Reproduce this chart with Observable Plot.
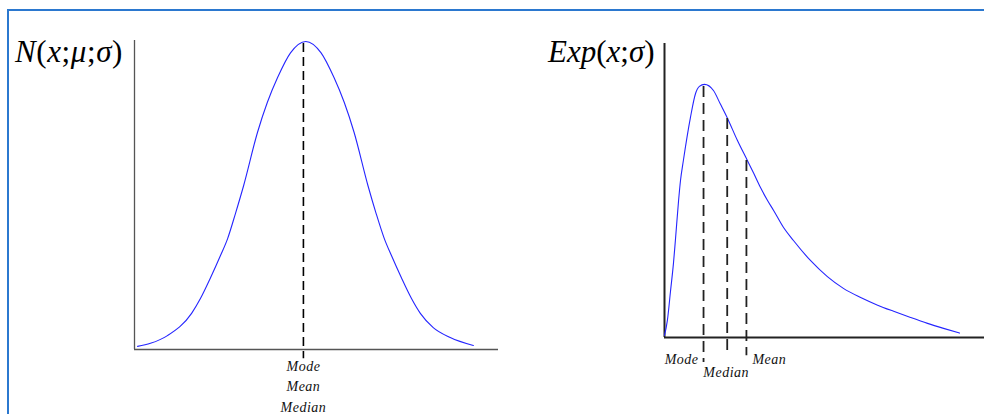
<!DOCTYPE html>
<html><head><meta charset="utf-8">
<script src="https://cdn.jsdelivr.net/npm/d3@7"></script>
<script src="https://cdn.jsdelivr.net/npm/@observablehq/plot@0.6"></script>
<style>
html,body{margin:0;padding:0;background:#fff;}
#wrap{position:relative;width:984px;height:414px;overflow:hidden;background:#fff;}
#frame{position:absolute;left:7px;top:9px;width:1100px;height:600px;border:2px solid #2b78cf;box-sizing:border-box;}
.title{position:absolute;font-family:"Liberation Serif","Times New Roman",serif;font-size:31px;line-height:1;white-space:nowrap;color:#000;}
.title i{font-style:italic;}
.panel{position:absolute;top:0;}
.panel svg text{letter-spacing:0.5px;}
</style></head>
<body><div id="wrap"><div id="frame"></div>
<div class="panel" id="left" style="left:0"></div>
<div class="panel" id="right" style="left:500px"></div>
<div class="title" style="left:15px;top:36px;letter-spacing:0.6px"><i>N</i>(<i>x</i>;<i>μ</i>;<i>σ</i>)</div>
<div class="title" style="left:548px;top:36px"><i>Exp</i>(<i>x</i>;<i>σ</i>)</div>
</div>
<script>
// Normal distribution curve (relative units)
const normalX = [0.09,0.47,0.97,1.68,1.94,2.24,2.53,2.74,2.97,3.21,3.62,3.91,4.21,4.59,5.04,5.49,5.87,6.17,6.46,6.87,7.11,7.35,7.56,7.85,8.15,8.41,8.79,9.29,9.97];
const normalY = [0.010,0.020,0.045,0.117,0.165,0.233,0.304,0.359,0.440,0.530,0.703,0.800,0.880,0.960,0.997,0.960,0.880,0.800,0.703,0.530,0.440,0.359,0.304,0.233,0.165,0.117,0.071,0.039,0.013];
const normalMode = 4.97;          // mode = mean = median
const normalStatTop = 0.99;
const normalLabels = ["Mode", "Mean", "Median"];

// Skewed distribution curve
const skewX = [0,0.09,0.19,0.28,0.34,0.44,0.50,0.59,0.81,0.97,1.09,1.25,1.53,1.75,1.97,2.28,2.59,2.78,3.00,3.22,3.41,3.72,4.03,4.56,5.09,5.59,6.13,6.66,7.16,7.69,8.22,8.72,9.22];
const skewY = [0.007,0.058,0.160,0.252,0.330,0.466,0.534,0.602,0.748,0.830,0.854,0.861,0.840,0.793,0.745,0.670,0.602,0.560,0.510,0.466,0.432,0.374,0.330,0.262,0.207,0.167,0.136,0.110,0.089,0.068,0.048,0.031,0.015];
const skewStatNames = ["Mode", "Median", "Mean"];
const skewStatX = [1.22, 1.96, 2.56];
const skewStatTop = [0.854, 0.745, 0.602];

const normalData = normalX.map((x, i) => ({x, y: normalY[i]}));
const skewData = skewX.map((x, i) => ({x, y: skewY[i]}));
const skewStats = skewStatNames.map((name, i) => ({name, x: skewStatX[i], top: skewStatTop[i]}));

const curveColor = "#2525ff";
const labelFont = {fontFamily: "'Liberation Serif', 'Times New Roman', serif", fontStyle: "italic", fontSize: 14, fill: "#111"};

const left = Plot.plot({
  width: 500, height: 414,
  marginLeft: 134, marginRight: 2, marginTop: 40, marginBottom: 65,
  x: {domain: [0, 10.71], axis: null},
  y: {domain: [0, 1], axis: null},
  style: {background: "transparent", overflow: "visible"},
  marks: [
    Plot.ruleX([0], {y1: 0, y2: 1, stroke: "#555", strokeWidth: 1.3}),
    Plot.ruleY([0], {x1: 0, x2: 10.71, stroke: "#555", strokeWidth: 1.3}),
    Plot.line(normalData, {x: "x", y: "y", stroke: curveColor, strokeWidth: 1.1, curve: "monotone-x"}),
    Plot.ruleX([normalMode], {y1: normalStatTop, y2: -0.03, stroke: "#000", strokeWidth: 1.6, strokeDasharray: "9,5"}),
    ...normalLabels.map((t, i) => Plot.text([t], {x: normalMode, y: 0, text: d => d, dy: 21 + 20.5 * i, lineAnchor: "bottom", textAnchor: "middle", ...labelFont}))
  ]
});
document.getElementById("left").appendChild(left);

const right = Plot.plot({
  width: 484, height: 414,
  marginLeft: 164, marginRight: 0, marginTop: 43, marginBottom: 77,
  x: {domain: [0, 10], axis: null},
  y: {domain: [0, 1], axis: null},
  style: {background: "transparent", overflow: "visible"},
  marks: [
    Plot.ruleX([0], {y1: 0, y2: 1, stroke: "#222", strokeWidth: 2}),
    Plot.ruleY([0], {x1: 0, x2: 10, stroke: "#222", strokeWidth: 2}),
    Plot.line(skewData, {x: "x", y: "y", stroke: curveColor, strokeWidth: 1.1, curve: "monotone-x"}),
    Plot.ruleX(skewStats, {x: "x", y1: "top", y2: d => d.name === "Mode" ? -0.085 : -0.062, stroke: "#222", strokeWidth: 1.8, strokeDasharray: "11,6"}),
    Plot.text([skewStats[0]], {x: "x", y: 0, text: "name", dx: -5, dy: 26, lineAnchor: "bottom", textAnchor: "end", ...labelFont}),
    Plot.text([skewStats[1]], {x: "x", y: 0, text: "name", dx: -1, dy: 39, lineAnchor: "bottom", textAnchor: "middle", ...labelFont}),
    Plot.text([skewStats[2]], {x: "x", y: 0, text: "name", dx: 6, dy: 26, lineAnchor: "bottom", textAnchor: "start", ...labelFont})
  ]
});
document.getElementById("right").appendChild(right);
</script>
</body></html>
